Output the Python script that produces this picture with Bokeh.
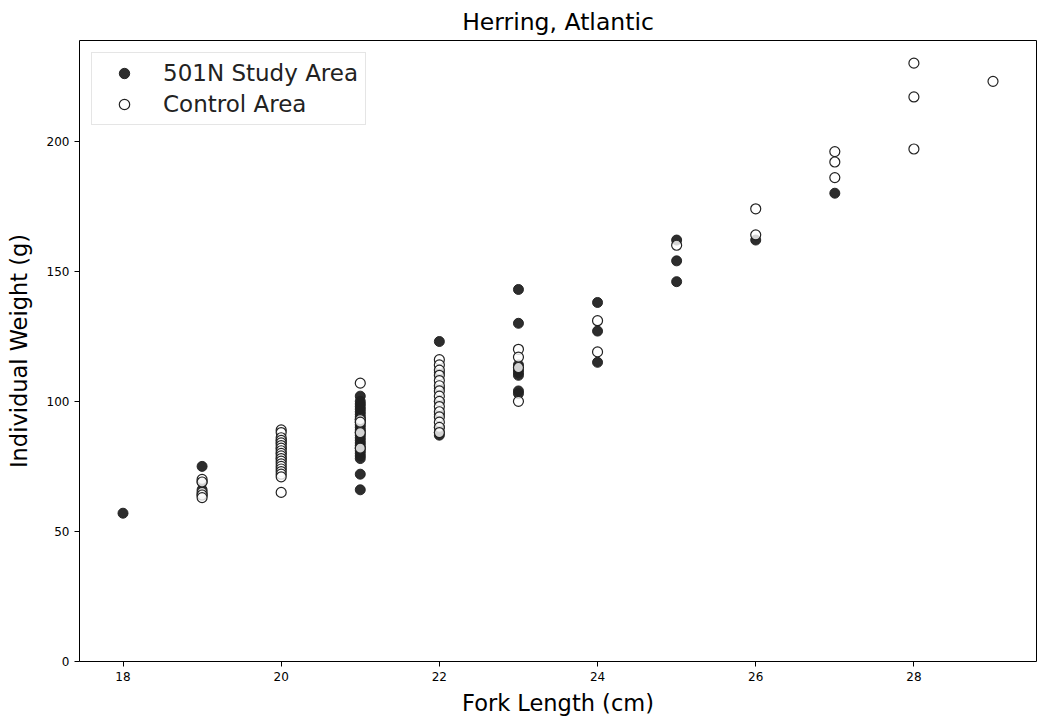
from bokeh.plotting import figure
from bokeh.models import Range1d, FixedTicker, Legend, LegendItem
from bokeh.embed import file_html
from bokeh.resources import INLINE

# Study area (501N) fish: fork length (cm) and weight (g)
study_len = ([18] + [19]*4 + [20]*5 + [21]*26 + [22]*8 + [23]*8 + [24]*3 + [25]*3 + [26] + [27])
study_wt = ([57] +
            [75, 69, 66, 64] +
            [85, 84, 82, 80, 78] +
            [102, 100, 99, 98, 97, 96, 95, 94, 93, 92, 91, 90, 89, 88, 87, 86, 85, 84, 83, 82,
             81, 80, 79, 78, 72, 66] +
            [123, 111, 105, 100, 95, 90, 88, 87] +
            [143, 130, 114, 112, 111, 110, 104, 103] +
            [138, 127, 115] +
            [162, 154, 146] +
            [162] +
            [180])

# Control area fish
control_len = ([19]*5 + [20]*19 + [21]*5 + [22]*15 + [23]*4 + [24]*2 + [25] + [26]*2 + [27]*3 + [28]*3 + [29])
control_wt = ([70, 69, 65, 64, 63] +
              [89, 88, 86, 85, 84, 83, 82, 81, 80, 79, 78, 77, 76, 75, 74, 73, 72, 71, 65] +
              [107, 93, 92, 88, 82] +
              [116, 114, 112, 110, 108, 106, 104, 102, 100, 98, 96, 94, 92, 90, 88] +
              [120, 117, 113, 100] +
              [131, 119] +
              [160] +
              [174, 164] +
              [196, 192, 186] +
              [230, 217, 197] +
              [223])

x_ticks = [18, 20, 22, 24, 26, 28]
y_ticks = [0, 50, 100, 150, 200]

p = figure(width=1037, height=718, output_backend="svg", toolbar_location=None,
           x_range=Range1d(17.45, 29.55), y_range=Range1d(0, 238.7),
           min_border_left=79, min_border_right=1, min_border_top=39, min_border_bottom=56,
           title="Herring, Atlantic")
p.title.align = "center"
p.title.text_font = "DejaVu Sans"
p.title.text_font_size = "23.5px"
p.title.text_font_style = "normal"
p.title.text_color = "#000000"
p.title.offset = 0

p.xgrid.visible = False
p.ygrid.visible = False
p.outline_line_color = "black"
p.outline_line_width = 1
p.outline_line_alpha = 1

for ax in (p.xaxis[0], p.yaxis[0]):
    ax.axis_line_color = None
    ax.major_tick_line_color = "black"
    ax.major_tick_out = 5
    ax.major_tick_in = 0
    ax.minor_tick_line_color = None
    ax.major_label_text_font = "DejaVu Sans"
    ax.major_label_text_font_size = "12px"
    ax.major_label_text_color = "black"
    ax.axis_label_text_font = "DejaVu Sans"
    ax.axis_label_text_font_size = "22.5px"
    ax.axis_label_text_font_style = "normal"
    ax.axis_label_text_color = "black"

p.xaxis.ticker = FixedTicker(ticks=x_ticks)
p.yaxis.ticker = FixedTicker(ticks=y_ticks)
p.xaxis.axis_label = "Fork Length (cm)"
p.yaxis.axis_label = "Individual Weight (g)"
p.xaxis.axis_label_standoff = 6
p.yaxis.axis_label_standoff = 12

r1 = p.scatter(study_len, study_wt, size=10, fill_color="#222222", line_color="#222222",
               fill_alpha=0.95, line_alpha=0.95)
r2 = p.scatter(control_len, control_wt, size=10, fill_color="white", line_color="#222222",
               line_width=1.2, fill_alpha=0.8)

legend = Legend(items=[LegendItem(label="501N Study Area", renderers=[r1]),
                       LegendItem(label="Control Area", renderers=[r2])],
                location="top_left")
legend.label_text_font = "DejaVu Sans"
legend.label_text_font_size = "23px"
legend.label_text_color = "#222222"
legend.border_line_color = "#cccccc"
legend.border_line_width = 1
legend.background_fill_alpha = 0.8
legend.margin = 12
legend.padding = 7
legend.spacing = 5
legend.glyph_width = 50
legend.glyph_height = 26
legend.label_height = 26
legend.label_standoff = 14
p.add_layout(legend)

open("out.html", "w").write(file_html(p, INLINE))
